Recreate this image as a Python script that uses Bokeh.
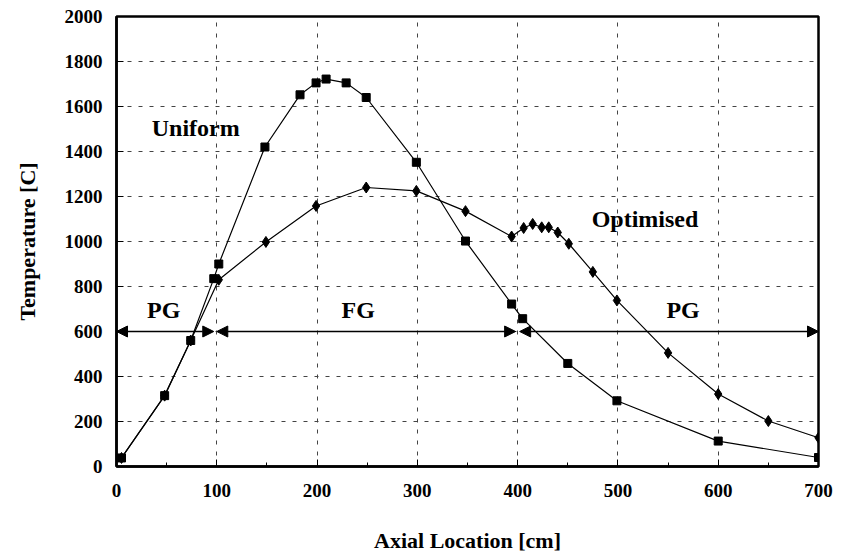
from bokeh.plotting import figure
from bokeh.models import Range1d, Arrow, NormalHead, ColumnDataSource, FixedTicker
from bokeh.core.properties import value
from bokeh.embed import file_html
from bokeh.resources import INLINE

# Uniform (squares)
uni_x = [5, 48, 74, 97, 102, 148, 183, 199, 209, 229, 249, 299, 348, 394, 405, 450, 499, 600, 700]
uni_y = [38, 315, 560, 835, 900, 1420, 1652, 1705, 1722, 1705, 1640, 1352, 1002, 722, 657, 458, 292, 113, 40]

# Optimised (diamonds)
opt_x = [5, 48, 74, 102, 149, 199, 249, 299, 348, 394, 406, 415, 424, 431, 440, 451, 475, 499, 550, 600, 650, 700]
opt_y = [38, 315, 560, 830, 998, 1158, 1240, 1225, 1135, 1022, 1060, 1078, 1063, 1063, 1040, 990, 865, 738, 505, 322, 202, 128]

# zone arrows at 600 C
zone_names = ["PG", "FG", "PG"]
zone_start = [0, 100, 402]
zone_end = [97, 398, 700]
zone_label_x = [47, 241, 565]
arrow_y = 600

curve_names = ["Uniform", "Optimised"]
curve_label_x = [79, 527]
curve_label_y = [1505, 1102]

x_ticks = [0, 100, 200, 300, 400, 500, 600, 700]
y_ticks = [0, 200, 400, 600, 800, 1000, 1200, 1400, 1600, 1800, 2000]

FONT = "Liberation Serif"

p = figure(width=849, height=556, output_backend="svg", toolbar_location=None,
           x_range=Range1d(0, 700), y_range=Range1d(0, 2000),
           min_border_left=116, min_border_right=31, min_border_top=16, min_border_bottom=90)
p.background_fill_color = "white"
p.border_fill_color = "white"
p.outline_line_color = "black"
p.outline_line_width = 2.5

for ax in (p.xaxis[0], p.yaxis[0]):
    ax.axis_line_width = 2.5
    ax.axis_line_color = "black"
    ax.major_tick_in = 7
    ax.major_tick_out = 0
    ax.minor_tick_out = 0
    ax.major_tick_line_color = "black"
    ax.major_label_text_font = FONT
    ax.major_label_text_font_style = "bold"
    ax.major_label_text_font_size = "19px"
    ax.major_label_text_color = "black"
    ax.axis_label_text_font = FONT
    ax.axis_label_text_font_style = "bold"
    ax.axis_label_text_font_size = "22px"
    ax.axis_label_text_color = "black"

p.xaxis.ticker = FixedTicker(ticks=x_ticks, minor_ticks=[50, 150, 250, 350, 450, 550, 650])
p.xaxis.minor_tick_in = 4
p.xaxis.minor_tick_line_color = "black"
p.yaxis.ticker = FixedTicker(ticks=y_ticks)
p.yaxis.minor_tick_line_color = None
p.xaxis.axis_label = "Axial Location [cm]"
p.yaxis.axis_label = "Temperature [C]"
p.xaxis.major_label_standoff = 17
p.xaxis.axis_label_standoff = 28
p.yaxis.major_label_standoff = 14
p.yaxis.axis_label_standoff = 22

for g in (p.xgrid[0], p.ygrid[0]):
    g.grid_line_color = "#444444"
    g.grid_line_dash = "4 7"
    g.grid_line_width = 1

src_u = ColumnDataSource(dict(x=uni_x, y=uni_y))
src_o = ColumnDataSource(dict(x=opt_x, y=opt_y))
p.line("x", "y", source=src_u, line_color="black", line_width=1.2)
p.line("x", "y", source=src_o, line_color="black", line_width=1.2)
p.scatter("x", "y", source=src_u, marker="square", size=8, fill_color="black", line_color="black")
p.scatter("x", "y", source=src_o, marker="diamond", size=11, fill_color="black", line_color="black")

for s, e in zip(zone_start, zone_end):
    p.add_layout(Arrow(start=NormalHead(size=11, fill_color="black", line_color="black"),
                       end=NormalHead(size=11, fill_color="black", line_color="black"),
                       x_start=s, y_start=arrow_y, x_end=e, y_end=arrow_y,
                       line_color="black", line_width=1.5))

p.text(x=zone_label_x, y=[arrow_y + 40] * 3, text=zone_names, text_font=value(FONT),
       text_font_style="bold", text_font_size="24px", text_align="center",
       text_baseline="bottom", text_color="black")
p.text(x=curve_label_x, y=curve_label_y, text=curve_names, text_font=value(FONT),
       text_font_style="bold", text_font_size="24px", text_align="center",
       text_baseline="middle", text_color="black")

open("out.html", "w").write(file_html(p, INLINE))
